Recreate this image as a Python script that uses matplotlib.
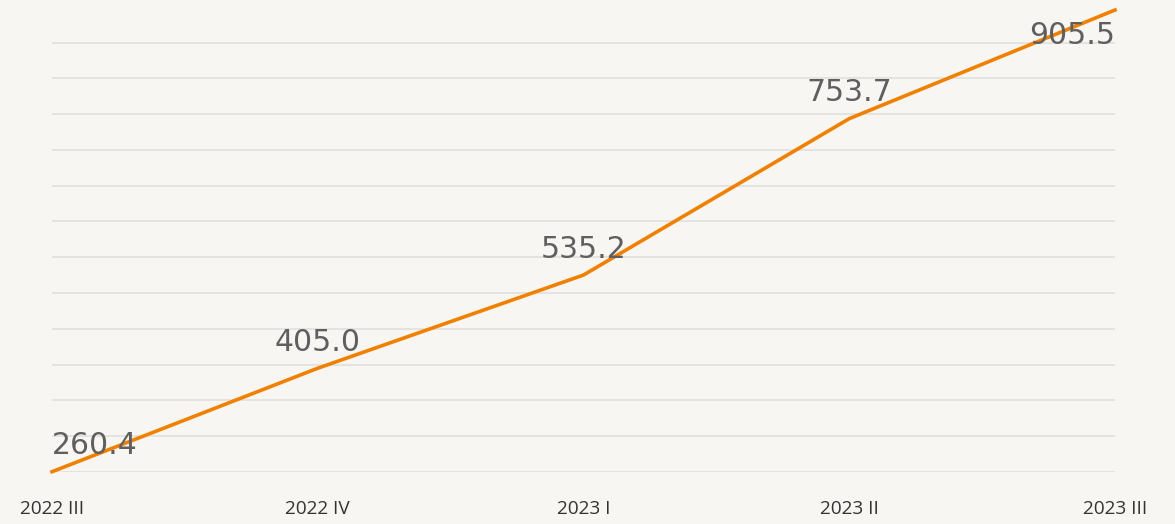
import matplotlib.pyplot as plt

quarters = ["2022 III", "2022 IV", "2023 I", "2023 II", "2023 III"]
values = [260.4, 405.0, 535.2, 753.7, 905.5]
grid_levels = [260 + 50 * i for i in range(13)]

bg = "#f7f6f2"
fig = plt.figure(figsize=(11.75, 5.24), dpi=100, facecolor=bg)
ax = fig.add_axes([52 / 1175, 52 / 524, 1063 / 1175, 462 / 524])
ax.set_facecolor(bg)

x = list(range(len(quarters)))
for g in grid_levels:
    ax.axhline(g, color="#e4e3df", lw=1.4, zorder=1)
ax.plot(x, values, color="#f08100", lw=2.6, zorder=3, clip_on=False)

ax.set_xlim(0, len(x) - 1)
ax.set_ylim(260, 905.5)

# data labels, kept inside the plot area
for i, v in enumerate(values):
    ha = "center"
    if i == 0:
        ha = "left"
    elif i == len(values) - 1:
        ha = "right"
    dy = 26 if i < len(values) - 1 else -25
    ax.annotate(f"{v:.1f}", (i, v), xytext=(0, dy * 0.72), textcoords="offset points",
                ha=ha, va="center", fontsize=21.5, color="#5f5f5f",
                family="DejaVu Sans", zorder=4)

ax.set_xticks(x)
ax.set_xticklabels(quarters, fontsize=13.7, color="#333333", family="Open Sans")
ax.tick_params(axis="x", length=0, pad=20)
ax.set_yticks([])
for s in ax.spines.values():
    s.set_visible(False)

fig.savefig("out.png", dpi=100, facecolor=bg)
